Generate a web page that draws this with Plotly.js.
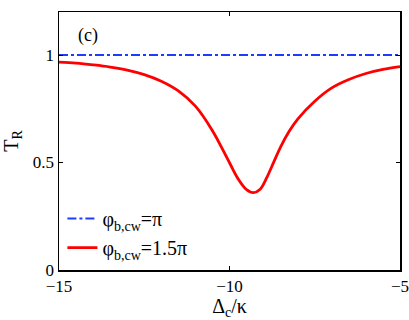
<!DOCTYPE html>
<html>
<head>
<meta charset="utf-8">
<script src="https://cdn.plot.ly/plotly-3.0.1.min.js"></script>
<style>
 body{margin:0;padding:0;background:#fff;}
 #myPlot{width:409px;height:320px;}
</style>
</head>
<body>
<div id="myPlot"></div>
<script>
///detuning values (x axis)
var detuning = [-15, -14.5, -14, -13.5, -13, -12.5, -12, -11.5, -11, -10.5, -10, -9.75, -9.5, -9.3,
                -9.1, -8.9, -8.7, -8.5, -8.25, -8, -7.5, -7, -6.5, -6, -5.5, -5];
///T_R for phi = 1.5 pi (red curve)
var trPhi15 = [0.967, 0.962, 0.954, 0.944, 0.930, 0.909, 0.878, 0.833, 0.762, 0.648, 0.499, 0.425, 0.374, 0.360,
               0.376, 0.432, 0.503, 0.573, 0.645, 0.702, 0.785, 0.847, 0.886, 0.914, 0.933, 0.946];
///T_R for phi = pi (blue dash-dot)
var detuningFlat = [-15, -5];
var trPhi1 = [1, 1];

var xTicks = [-15, -10, -5];
var yTicks = [0, 0.5, 1];

var fnt = 'Times New Roman';

var trace1 = {
  x: detuningFlat,
  y: trPhi1,
  name: '\u03c6<sub>b,cw</sub>=\u03c0',
  mode: 'lines',
  line: {color: 'rgb(30,60,255)', width: 2, dash: 'dashdot'}
};
var trace2 = {
  x: detuning,
  y: trPhi15,
  name: '\u03c6<sub>b,cw</sub>=1.5\u03c0',
  mode: 'lines',
  line: {color: 'rgb(255,0,0)', width: 2.8, shape: 'spline', smoothing: 1}
};

var axisCommon = {
  showgrid: false,
  zeroline: false,
  showline: true,
  linecolor: 'black',
  linewidth: 1.5,
  mirror: 'ticks',
  ticks: 'inside',
  ticklen: 4,
  tickcolor: 'black',
  ticklabeloverflow: 'allow',
  tickfont: {family: fnt, size: 17, color: 'black'}
};

var layout = {
  width: 409,
  height: 320,
  margin: {l: 59, r: 9, t: 12, b: 50},
  paper_bgcolor: 'white',
  plot_bgcolor: 'white',
  font: {family: fnt, size: 17, color: 'black'},
  xaxis: Object.assign({}, axisCommon, {
    range: [-15, -5],
    tickvals: xTicks,
    ticktext: xTicks.map(function(v){return '\u2212' + Math.abs(v);}),
    title: {text: '\u0394<sub>c</sub>/\u03ba', font: {family: fnt, size: 20}, standoff: 0}
  }),
  yaxis: Object.assign({}, axisCommon, {
    range: [0, 1.2],
    tickvals: yTicks,
    ticktext: ['0', '0.5', '1'],
    title: {text: 'T<sub>R</sub>', font: {family: fnt, size: 20}, standoff: 12}
  }),
  legend: {
    x: 0.01, y: 0.275, xanchor: 'left', yanchor: 'top',
    bgcolor: 'rgba(0,0,0,0)',
    font: {family: fnt, size: 20},
    tracegroupgap: 0
  },
  annotations: [{
    xref: 'paper', yref: 'paper', x: 0.05, y: 0.91,
    text: '(c)', showarrow: false, xanchor: 'left', yanchor: 'middle',
    font: {family: fnt, size: 18}
  }]
};

Plotly.newPlot('myPlot', [trace1, trace2], layout, {displayModeBar: false, staticPlot: true});
</script>
</body>
</html>
